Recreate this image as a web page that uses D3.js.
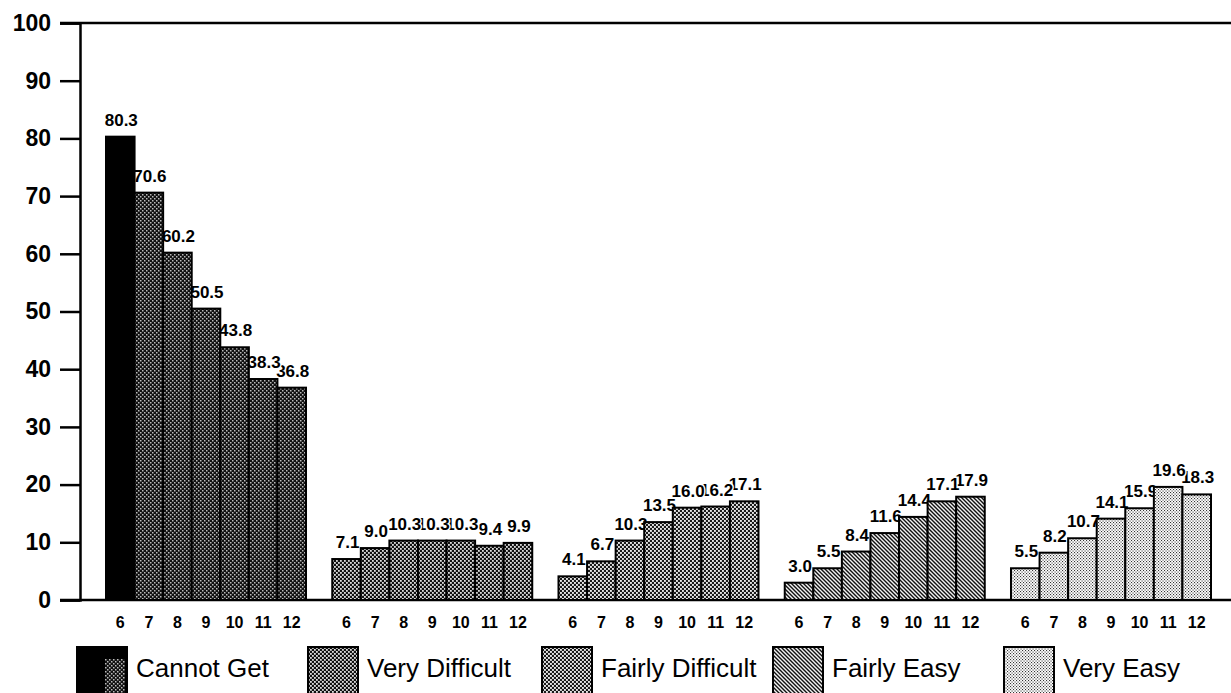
<!DOCTYPE html>
<html lang="en">
<head>
  <meta charset="UTF-8">
  <title>Difficulty by grade</title>
  <script src="https://d3js.org/d3.v7.min.js"></script>
  <style>
    body { margin: 0; background: #fff; }
    text { font-family: "Liberation Sans", Arial, Helvetica, sans-serif; fill: #000; }
  </style>
</head>
<body>
<script>
// chart size
var width = 1231,
    height = 693;

// data
var groups = ["Cannot Get", "Very Difficult", "Fairly Difficult", "Fairly Easy", "Very Easy"];
var grades = ["6", "7", "8", "9", "10", "11", "12"];
var cannotGet       = [80.3, 70.6, 60.2, 50.5, 43.8, 38.3, 36.8];
var veryDifficult   = [7.1, 9.0, 10.3, 10.3, 10.3, 9.4, 9.9];
var fairlyDifficult = [4.1, 6.7, 10.3, 13.5, 16.0, 16.2, 17.1];
var fairlyEasy      = [3.0, 5.5, 8.4, 11.6, 14.4, 17.1, 17.9];
var veryEasy        = [5.5, 8.2, 10.7, 14.1, 15.9, 19.6, 18.3];
var yTicks = [0, 10, 20, 30, 40, 50, 60, 70, 80, 90, 100];

var series = [cannotGet, veryDifficult, fairlyDifficult, fairlyEasy, veryEasy];

var rows = [];
groups.forEach(function(g, gi) {
  grades.forEach(function(gr, i) {
    rows.push({group: g, gi: gi, grade: gr, i: i, value: series[gi][i]});
  });
});

var svg = d3.select("body").append("svg")
    .attr("width", width)
    .attr("height", height);

// fill patterns for the five answers
var defs = svg.append("defs");

function dotPattern(id, bg, fg, size, r) {
  var p = defs.append("pattern").attr("id", id)
      .attr("patternUnits", "userSpaceOnUse")
      .attr("width", size).attr("height", size);
  p.append("rect").attr("width", size).attr("height", size).attr("fill", bg);
  p.append("rect").attr("x", 0).attr("y", 0).attr("width", r).attr("height", r).attr("fill", fg);
  p.append("rect").attr("x", size / 2).attr("y", size / 2).attr("width", r).attr("height", r).attr("fill", fg);
}
dotPattern("p0", "#111", "#bbb", 4, 1.5);
dotPattern("p1", "#111", "#ddd", 4, 1.8);
dotPattern("p2", "#1a1a1a", "#e8e8e8", 4, 1.9);

var hatch = defs.append("pattern").attr("id", "p3")
    .attr("patternUnits", "userSpaceOnUse")
    .attr("width", 4).attr("height", 4);
hatch.append("rect").attr("width", 4).attr("height", 4).attr("fill", "#f2f2f2");
hatch.append("path").attr("d", "M-1,-1 l6,6 M-1,3 l2,2 M3,-1 l2,2")
    .attr("stroke", "#111").attr("stroke-width", 1.4);

dotPattern("p4", "#fff", "#333", 3, 1.1);

var fills = ["url(#p0)", "url(#p1)", "url(#p2)", "url(#p3)", "url(#p4)"];

// scales
var y = d3.scaleLinear().domain([0, 100]).range([600, 23]);

var x0 = d3.scaleBand().domain(groups)
    .range([106, 1211])
    .paddingInner(0.116)
    .paddingOuter(0);

var x1 = d3.scaleBand().domain(grades)
    .range([0, x0.bandwidth()]);

// y axis
var yAxis = svg.append("g")
    .attr("transform", "translate(80,0)")
    .call(d3.axisLeft(y).tickValues(yTicks).tickSize(20).tickPadding(9));
yAxis.select(".domain").attr("stroke-width", 2.5);
yAxis.selectAll(".tick line").attr("stroke-width", 2.5);
yAxis.selectAll(".tick text")
    .attr("font-size", 23)
    .attr("font-weight", "bold")
    .attr("font-family", "Liberation Sans, Arial, sans-serif");

// frame lines (top and bottom)
svg.append("line")
    .attr("x1", 60).attr("x2", width)
    .attr("y1", y(100)).attr("y2", y(100))
    .attr("stroke", "#000").attr("stroke-width", 2.5);
svg.append("line")
    .attr("x1", 60).attr("x2", width)
    .attr("y1", y(0)).attr("y2", y(0))
    .attr("stroke", "#000").attr("stroke-width", 2.5);

// value labels first, in reverse so earlier labels sit on top; bars then cover them
svg.append("g").selectAll("text")
    .data(rows.slice().reverse())
    .enter().append("text")
    .attr("x", function(d) { return x0(d.group) + x1(d.grade) + x1.bandwidth() / 2 + 1; })
    .attr("y", function(d) { return y(d.value) - 11; })
    .attr("text-anchor", "middle")
    .attr("font-size", 17)
    .attr("font-weight", "bold")
    .attr("stroke", "#fff")
    .attr("stroke-width", 3)
    .attr("paint-order", "stroke")
    .text(function(d) { return d.value.toFixed(1); });

// bars
svg.append("g").selectAll("rect")
    .data(rows)
    .enter().append("rect")
    .attr("x", function(d) { return x0(d.group) + x1(d.grade); })
    .attr("y", function(d) { return y(d.value); })
    .attr("width", x1.bandwidth())
    .attr("height", function(d) { return y(0) - y(d.value); })
    .attr("fill", function(d) { return (d.gi === 0 && d.i === 0) ? "#000" : fills[d.gi]; })
    .attr("stroke", "#000")
    .attr("stroke-width", 2);

// grade labels under each bar
svg.append("g").selectAll("text")
    .data(rows)
    .enter().append("text")
    .attr("x", function(d) { return x0(d.group) + x1(d.grade) + x1.bandwidth() / 2; })
    .attr("y", 628)
    .attr("text-anchor", "middle")
    .attr("font-size", 16)
    .attr("font-weight", "bold")
    .text(function(d) { return d.grade; });

// legend
var legendX = [77, 308, 542, 773, 1004];
var legend = svg.append("g")
    .selectAll("g")
    .data(groups)
    .enter().append("g")
    .attr("transform", function(d, i) { return "translate(" + legendX[i] + ",647)"; });

legend.append("rect")
    .attr("width", 50).attr("height", 52)
    .attr("fill", function(d, i) { return i === 0 ? "#000" : fills[i]; })
    .attr("stroke", "#000")
    .attr("stroke-width", 2);

// the "Cannot Get" key is black with a dotted patch on its right
legend.filter(function(d, i) { return i === 0; })
  .append("rect")
    .attr("x", 28).attr("y", 12)
    .attr("width", 20).attr("height", 40)
    .attr("fill", "url(#p0)");

legend.append("text")
    .attr("x", 59)
    .attr("y", 30)
    .attr("font-size", 26)
    .text(function(d) { return d; });
</script>
</body>
</html>
